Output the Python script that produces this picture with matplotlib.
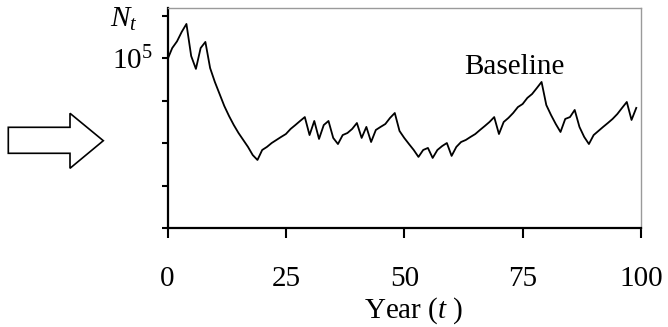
import matplotlib
matplotlib.use("Agg")
import matplotlib.pyplot as plt
from matplotlib.patches import Polygon

plt.rcParams['font.family'] = ['Liberation Serif', 'DejaVu Serif']
plt.rcParams['mathtext.fontset'] = 'custom'
plt.rcParams['mathtext.rm'] = 'Liberation Serif'
plt.rcParams['mathtext.it'] = 'Liberation Serif:italic'

# Data: year and log10 of population size N_t
years = list(range(100))
log_n = [4.994, 5.061, 5.100, 5.156, 5.203, 5.014, 4.938, 5.061, 5.097, 4.943,
         4.861, 4.790, 4.719, 4.660, 4.607, 4.560, 4.519, 4.478, 4.430, 4.401,
         4.460, 4.478, 4.501, 4.519, 4.537, 4.554, 4.584, 4.607, 4.631, 4.654,
         4.548, 4.631, 4.525, 4.607, 4.631, 4.531, 4.495, 4.548, 4.560, 4.584,
         4.619, 4.531, 4.596, 4.507, 4.578, 4.596, 4.613, 4.649, 4.678, 4.572,
         4.531, 4.495, 4.460, 4.419, 4.460, 4.472, 4.413, 4.460, 4.483, 4.501,
         4.425, 4.478, 4.507, 4.519, 4.537, 4.554, 4.578, 4.601, 4.625, 4.654,
         4.554, 4.625, 4.649, 4.678, 4.713, 4.731, 4.767, 4.790, 4.825, 4.861,
         4.725, 4.666, 4.613, 4.566, 4.643, 4.654, 4.696, 4.596, 4.537, 4.495,
         4.548, 4.572, 4.596, 4.619, 4.643, 4.672, 4.708, 4.743, 4.637, 4.708]

x_ticks = [0, 25, 50, 75, 100]
x_tick_labels = ['0', '25', '50', '75', '100']
y_ticks = [4.0, 4.25, 4.5, 4.75, 5.0, 5.25]
y_tick_labels = ['', '', '', '', '$10^5$', '']

W, H = 668, 327
fig = plt.figure(figsize=(W / 100, H / 100), dpi=100)
left, right, bottom, top = 167.5, 641, 228, 8
ax = fig.add_axes([left / W, 1 - bottom / H, (right - left) / W, (bottom - top) / H])

ax.plot(years, log_n, color='black', lw=1.3)
ax.set_xlim(0, 100)
ax.set_ylim(4.0, 5.297)

ax.set_xticks(x_ticks)
ax.set_xticklabels(x_tick_labels)
ax.set_yticks(y_ticks)
ax.set_yticklabels(y_tick_labels)

ax.tick_params(axis='x', direction='out', length=7.5, width=1.5, pad=19.5,
               labelsize=21, colors='black')
ax.tick_params(axis='y', direction='out', length=4.5, width=1.5, pad=6,
               labelsize=21, colors='black')

for side in ['left', 'bottom']:
    ax.spines[side].set_color('black')
    ax.spines[side].set_linewidth(1.6)
for side in ['top', 'right']:
    ax.spines[side].set_color('#9a9a9a')
    ax.spines[side].set_linewidth(1.0)

fig.text(514 / W, 1 - 74 / H, 'Baseline', fontsize=21, ha='center', va='baseline')
fig.text(414 / W, 1 - 318 / H, 'Year ($t$ )', fontsize=21, ha='center', va='baseline')
fig.text(124 / W, 1 - 27 / H, '$N_t$', fontsize=21, ha='center', va='baseline')

# hollow block arrow on the left
pts = [(8.3, 127.3), (70, 127.3), (70, 113.3), (103.3, 140.7), (70, 168.3),
       (70, 153.3), (8.3, 153.3)]
arrow = Polygon([(px / W, 1 - py / H) for px, py in pts], closed=True,
                facecolor='white', edgecolor='black', lw=1.2,
                transform=fig.transFigure)
fig.patches.append(arrow)

fig.savefig('out.png', dpi=100)
